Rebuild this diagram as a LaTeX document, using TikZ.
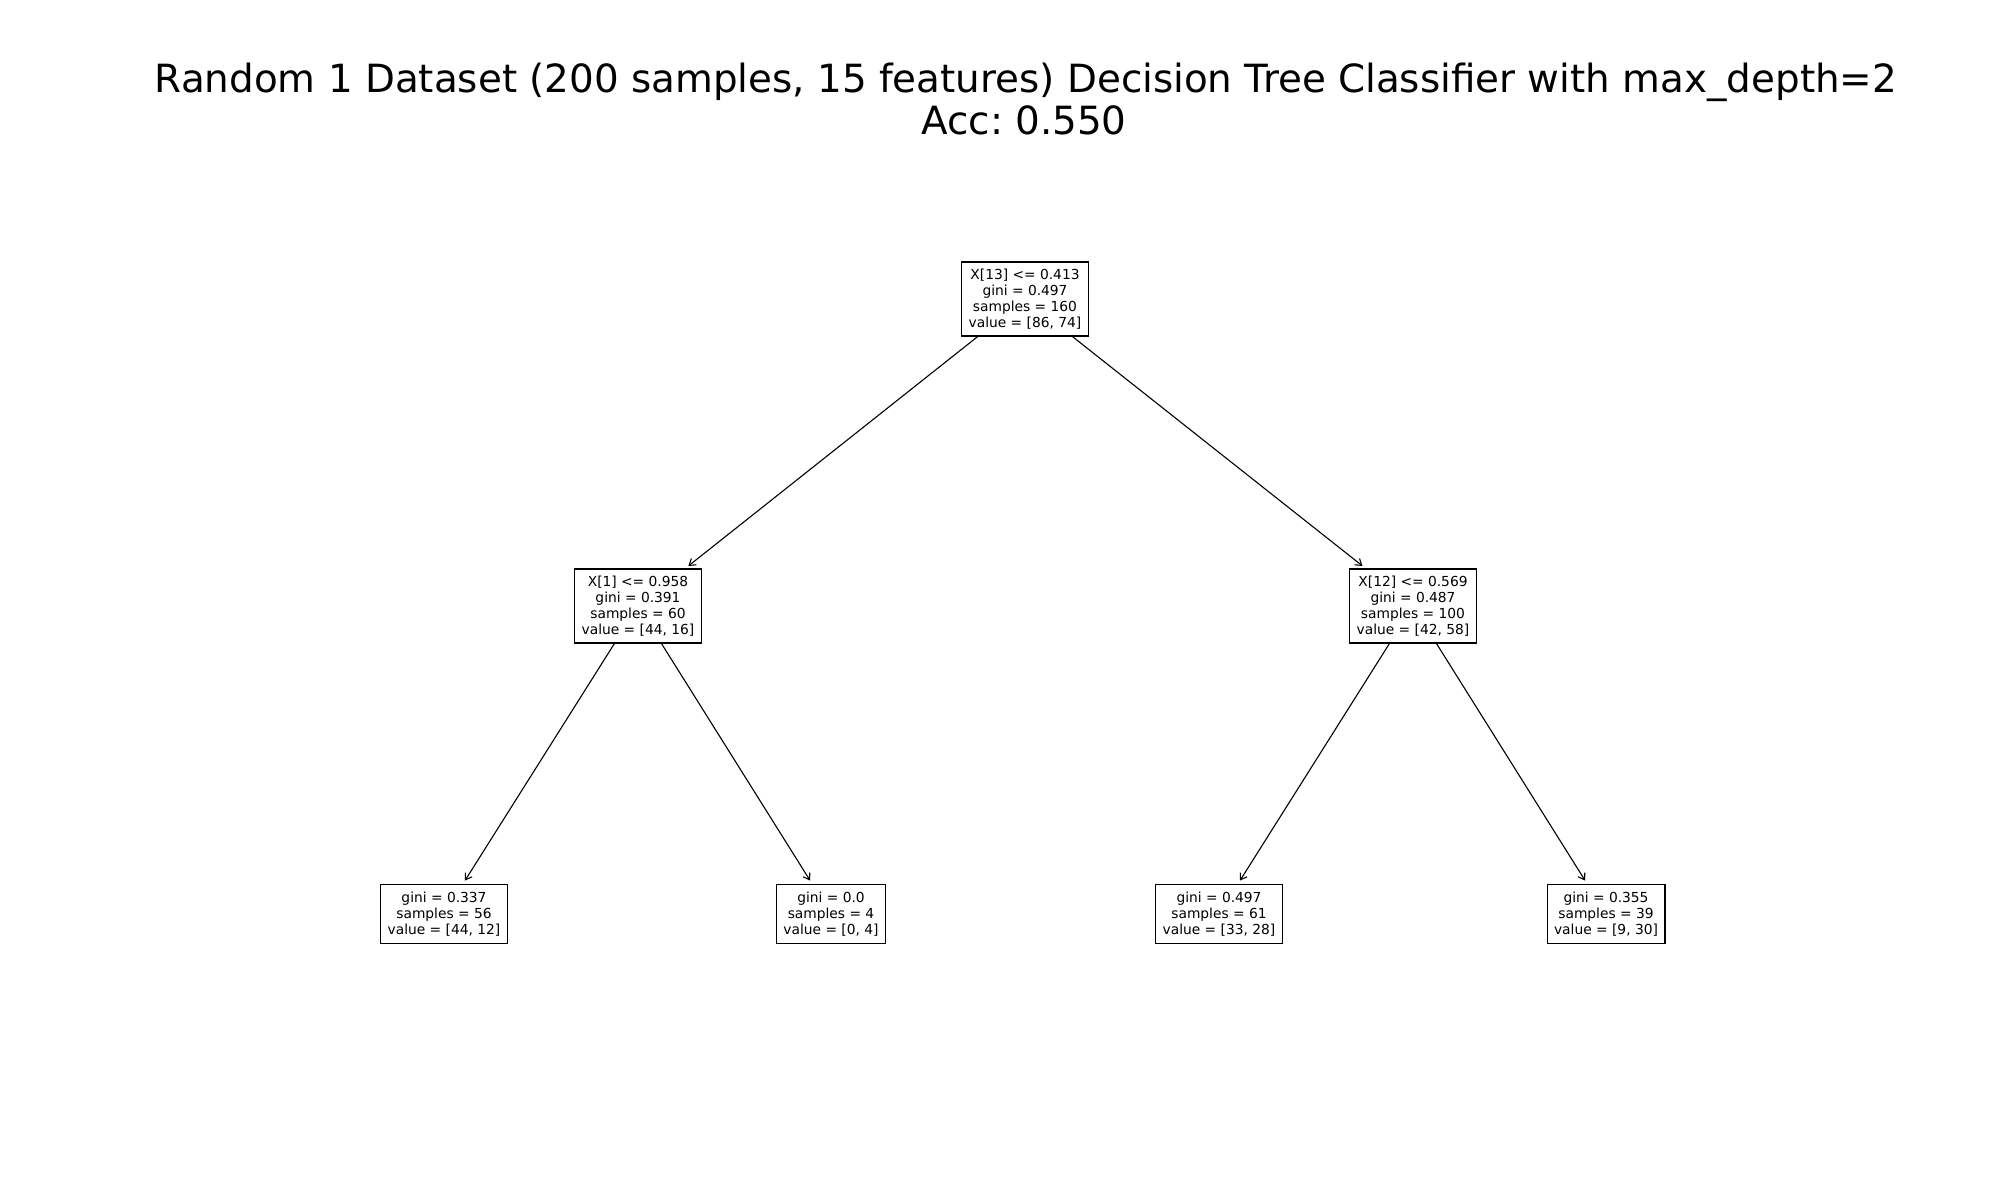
\documentclass[tikz,border=0pt]{standalone}
\usepackage{fontspec}
\setmainfont{DejaVu Sans}
\usetikzlibrary{arrows.meta}
\frenchspacing
\begin{document}
\begin{tikzpicture}[x=1pt,y=-1pt,
  box/.style={draw=black,line width=1.1pt,fill=white,align=center,inner xsep=7pt,inner ysep=2pt,
    font=\fontsize{13.8}{15.8}\selectfont},
  inner/.style={box,minimum height=74pt},
  leaf/.style={box,minimum height=59pt},
  arr/.style={line width=1.1pt,-{Straight Barb[length=6pt,width=8pt,line width=1.1pt]},shorten >=4pt},
  ttl/.style={anchor=base,inner sep=0pt,font=\fontsize{38.85}{42}\selectfont}]
\useasboundingbox[fill=white] (0,0) rectangle (2000,1200);
\node[ttl] (t1) at (1026,92) {Random 1 Dataset (200 samples, 15 features) Decision Tree Classifier with max\_depth=2};
\node[ttl] (t2) at (1024,134) {Acc: 0.550};
\node[inner] (root) at (1025,299) {X[13] <= 0.413\\gini = 0.497\\samples = 160\\value = [86, 74]};
\node[inner] (l) at (638,606) {X[1] <= 0.958\\gini = 0.391\\samples = 60\\value = [44, 16]};
\node[inner] (r) at (1413,606) {X[12] <= 0.569\\gini = 0.487\\samples = 100\\value = [42, 58]};
\node[leaf] (ll) at (444,914) {gini = 0.337\\samples = 56\\value = [44, 12]};
\node[leaf] (lr) at (831,914) {gini = 0.0\\samples = 4\\value = [0, 4]};
\node[leaf] (rl) at (1219,914) {gini = 0.497\\samples = 61\\value = [33, 28]};
\node[leaf] (rr) at (1606,914) {gini = 0.355\\samples = 39\\value = [9, 30]};
\draw[arr] (root) -- (l);
\draw[arr] (root) -- (r);
\draw[arr] (l) -- (ll);
\draw[arr] (l) -- (lr);
\draw[arr] (r) -- (rl);
\draw[arr] (r) -- (rr);
\end{tikzpicture}
\end{document}
